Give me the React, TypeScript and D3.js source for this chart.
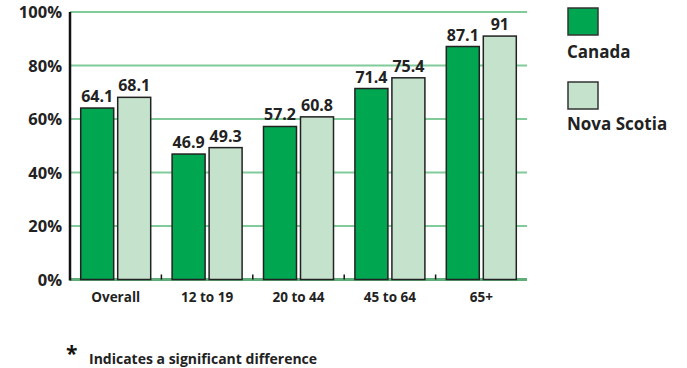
import React from "react";
import * as d3 from "d3";

const categories = ["Overall", "12 to 19", "20 to 44", "45 to 64", "65+"];
const canada = [64.1, 46.9, 57.2, 71.4, 87.1];
const novaScotia = [68.1, 49.3, 60.8, 75.4, 91];
const valueLabels1 = ["64.1", "46.9", "57.2", "71.4", "87.1"];
const valueLabels2 = ["68.1", "49.3", "60.8", "75.4", "91"];
const yTicks = [0, 20, 40, 60, 80, 100];
const seriesNames = ["Canada", "Nova Scotia"];

const C1 = "#00a650";
const C2 = "#c5e3cc";
const GRID = "#80cb99";
const FONT = "'Open Sans', 'DejaVu Sans', sans-serif";

export default function App() {
  const W = 687, H = 368;
  const x0 = 70, x1 = 527;
  const y = d3.scaleLinear().domain([0, 100]).range([279.5, 12]);
  const xb = d3.scaleBand<string>().domain(categories).range([x0, x1]);
  const bw = 33;
  const gap = 4;
  const series = [
    { vals: canada, labels: valueLabels1, color: C1 },
    { vals: novaScotia, labels: valueLabels2, color: C2 },
  ];
  return (
    <svg width={W} height={H} style={{ position: "absolute", left: 0, top: 0 }} fontFamily={FONT}>
      <rect width={W} height={H} fill="#fff" />
      {yTicks.map((t) => (
        <g key={t}>
          <line x1={x0} x2={x1} y1={y(t)} y2={y(t)} stroke={t === 0 ? "#5fae7a" : GRID} strokeWidth={t === 0 ? 3 : 2} />
          <text x={62} y={y(t) + 6} textAnchor="end" fontSize={16.5} fontWeight="bold" fill="#222">{t}%</text>
        </g>
      ))}
      {categories.slice(1).map((c) => (
        <line key={c} x1={xb(c)!} x2={xb(c)!} y1={y(0) - 5} y2={y(0)} stroke="#111" strokeWidth={1.5} />
      ))}
      {categories.map((c, i) => {
        const cx = xb(c)! + xb.bandwidth() / 2;
        return (
          <g key={c}>
            {series.map((s, j) => {
              const bx = j === 0 ? cx - gap / 2 - bw : cx + gap / 2;
              const top = y(s.vals[i]);
              return (
                <g key={j}>
                  <rect x={bx} y={top} width={bw} height={y(0) - top} fill={s.color} stroke="#222" strokeWidth={1.5} />
                  <text x={bx + bw / 2} y={top - 6} textAnchor="middle" fontSize={16} fontWeight="bold" fill="#222">{s.labels[i]}</text>
                </g>
              );
            })}
            <text x={cx} y={301.5} textAnchor="middle" fontSize={13.5} fontWeight="bold" fill="#222">{c}</text>
          </g>
        );
      })}
      <line x1={x0} x2={x0} y1={y(100)} y2={y(0) + 1} stroke="#111" strokeWidth={2.5} />
      {seriesNames.map((n, i) => (
        <g key={n}>
          <rect x={568} y={8 + i * 74} width={30} height={27} fill={i === 0 ? C1 : C2} stroke="#333" strokeWidth={1.5} />
          <text x={567} y={58 + i * 72} fontSize={17} fontWeight="bold" fill="#222">{n}</text>
        </g>
      ))}
      <text x={66} y={361} fontSize={21} fontWeight="bold" fill="#111">*</text>
      <text x={89} y={364} fontSize={14} fontWeight="bold" fill="#222">Indicates a significant difference</text>
    </svg>
  );
}
